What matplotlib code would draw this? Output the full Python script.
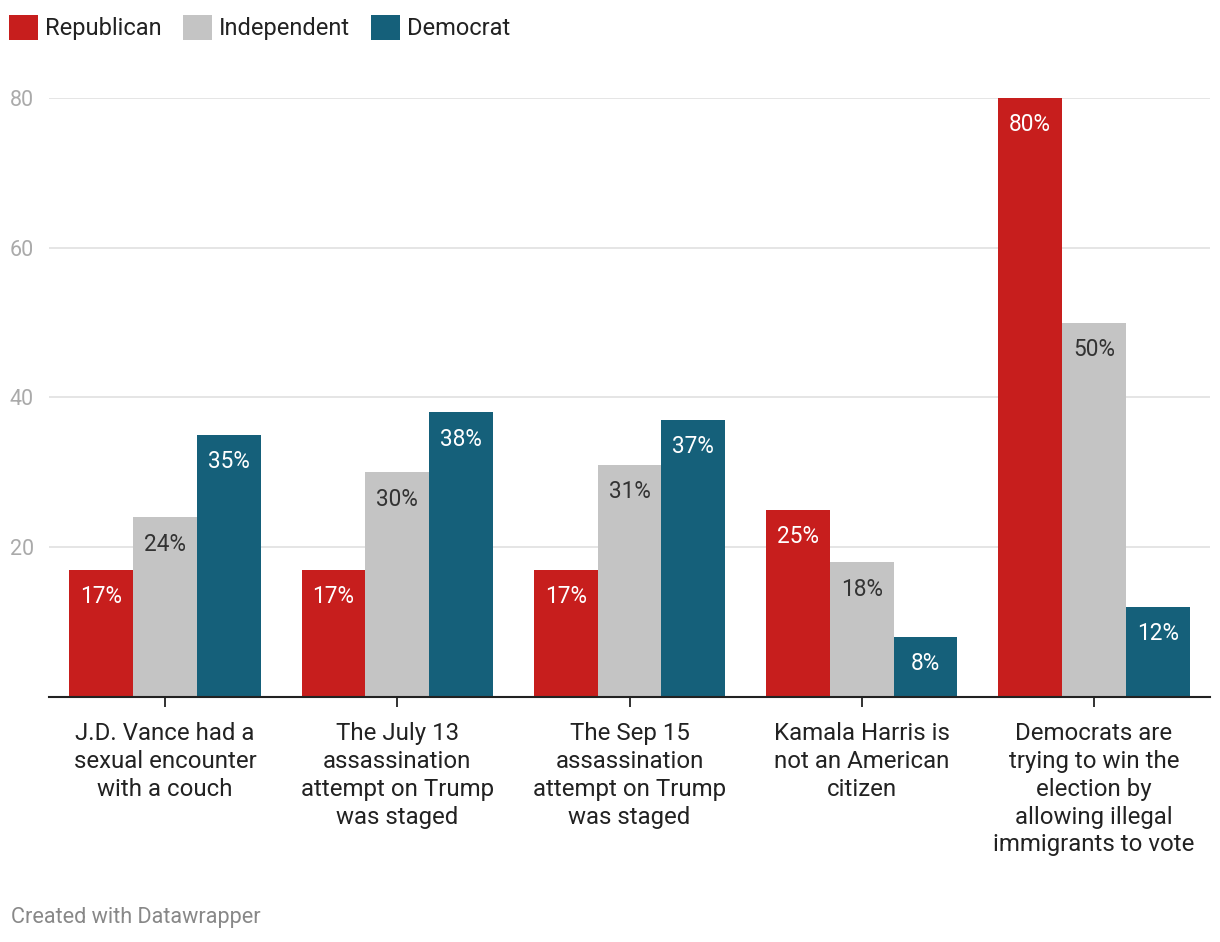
"""
Partisan belief in election conspiracy claims, grouped bar chart
(Datawrapper-style recreation).
"""

import numpy as np
import matplotlib
matplotlib.use("Agg")
import matplotlib.pyplot as plt
from matplotlib.patches import Patch

plt.rcParams["font.family"] = ["Roboto", "DejaVu Sans"]

categories = [
    "J.D. Vance had a\nsexual encounter\nwith a couch",
    "The July 13\nassassination\nattempt on Trump\nwas staged",
    "The Sep 15\nassassination\nattempt on Trump\nwas staged",
    "Kamala Harris is\nnot an American\ncitizen",
    "Democrats are\ntrying to win the\nelection by\nallowing illegal\nimmigrants to vote",
]
republican = [17, 17, 17, 25, 80]
independent = [24, 30, 31, 18, 50]
democrat = [35, 38, 37, 8, 12]

series_names = ["Republican", "Independent", "Democrat"]
colors = ["#c71e1d", "#c4c4c4", "#15607a"]
label_colors = ["white", "#333333", "white"]
y_ticks = [20, 40, 60, 80]

fig = plt.figure(figsize=(12.2, 9.42), dpi=100)
ax = fig.add_axes([0.0402, 0.2601, 0.9516, 0.6359])

x = np.arange(len(categories))
width = 0.275
offsets = [-width, 0, width]

for vals, off, col, lcol in zip([republican, independent, democrat], offsets, colors, label_colors):
    bars = ax.bar(x + off, vals, width=width, color=col, zorder=3)
    for b, v in zip(bars, vals):
        ax.annotate(f"{v}%", (b.get_x() + b.get_width() / 2, v),
                    xytext=(0, -19.3), textcoords="offset points",
                    ha="center", va="center", fontsize=16.3, color=lcol, zorder=4)

ax.set_xlim(-0.5, len(categories) - 0.5)
ax.set_ylim(0, 80)
ax.set_yticks(y_ticks)
ax.grid(axis="y", color="#e3e3e3", linewidth=1.3, zorder=0)
ax.tick_params(axis="y", length=0, labelsize=15.5, labelcolor="#aaaaaa", pad=11)

ax.set_xticks(x)
ax.set_xticklabels(categories, fontsize=17.3, color="#222222", linespacing=1.27)
ax.tick_params(axis="x", length=7.5, width=1.3, color="#222222", pad=10.5)

for side in ["top", "right", "left"]:
    ax.spines[side].set_visible(False)
ax.spines["bottom"].set_color("#222222")
ax.spines["bottom"].set_linewidth(1.5)
ax.spines["bottom"].set_zorder(5)

handles = [Patch(facecolor=c, edgecolor="none") for c in colors]
fig.legend(handles, series_names, loc="upper left", bbox_to_anchor=(9 / 1220, 1 - 15 / 942),
           ncol=3, frameon=False, fontsize=17, handlelength=1.24, handleheight=1.24,
           handletextpad=0.28, columnspacing=0.9, labelcolor="#222222",
           borderpad=0, borderaxespad=0)

fig.text(0.009, 0.0265, "Created with Datawrapper", fontsize=15.6, color="#888888",
         ha="left", va="center")

fig.savefig("out.png", dpi=100)
